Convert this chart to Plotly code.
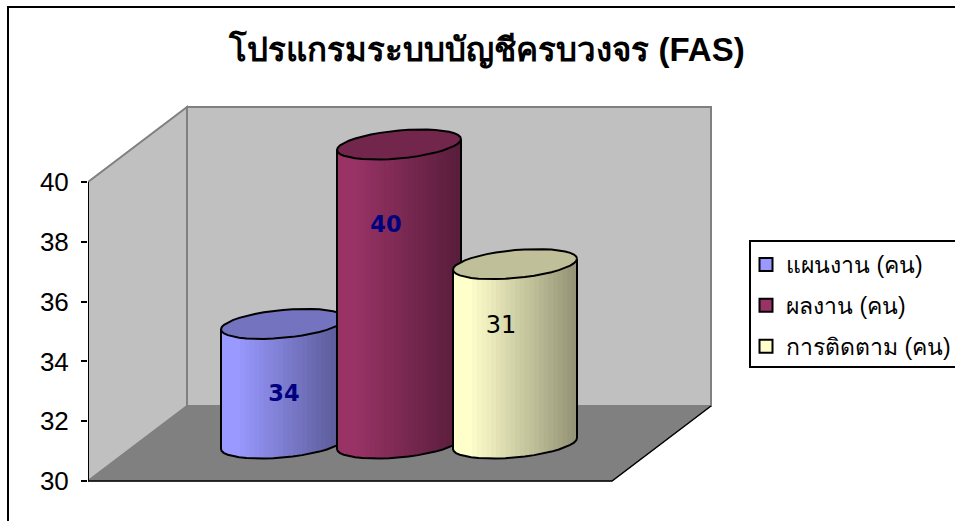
import numpy as np
import plotly.graph_objects as go

# ---- data ----
series_names = ["แผนงาน (คน)", "ผลงาน (คน)", "การติดตาม (คน)"]
bar_heights = [34, 40, 36]
bar_labels = ["34", "40", "31"]
tick_values = [30, 32, 34, 36, 38, 40]
title_text = "โปรแกรมระบบบัญชีครบวงจร (FAS)"

# ---- style ----
base_colors = [(0x99, 0x99, 0xFF), (0x99, 0x33, 0x66), (0xFF, 0xFF, 0xCC)]
label_colors = ["#000080", "#000080", "#000000"]
label_weights = ["bold", "bold", "normal"]
label_sizes = [22.5, 22.5, 24]
label_shift_x = [1, -13, -14]
label_shift_y = [71, 82, 63]
FONT = "Liberation Sans, Arial, sans-serif"
LABEL_FONT = "DejaVu Sans, Verdana, sans-serif"

# ---- geometry: x axis is in screen-like units, y axis in value units ----
W, H = 955, 521
PX_PER_UNIT = 29.9
AXIS_BOTTOM = 481
DEPTH_X, DEPTH_Y = 99, 75
AXIS_X = 88
FLOOR_W = 524
CYL_X0, CYL_STEP, CYL_W = 221, 116, 124
CYL_DY = 37.5          # base-centre rise above the front axis edge
ELL_B, ELL_TILT = 14, 5.5
N_STRIPS, N_POLY = 26, 20


def val(py):
    return 30 + (AXIS_BOTTOM - py) / PX_PER_UNIT


def rgb(c, f=1.0):
    return "rgb(%d,%d,%d)" % tuple(round(v * f) for v in c)


LIFT = CYL_DY / PX_PER_UNIT
BASE_VAL = 30 + LIFT
DY = DEPTH_Y / PX_PER_UNIT
TOP_VAL = max(tick_values)
B = ELL_B / PX_PER_UNIT
TILT = ELL_TILT / PX_PER_UNIT

fig = go.Figure()


def ellipse(cx, cy, a, t):
    return cx + a * np.cos(t), cy + B * np.sin(t) + TILT * np.cos(t)


for i, (h, col, name) in enumerate(zip(bar_heights, base_colors, series_names)):
    left = CYL_X0 + i * CYL_STEP
    a = CYL_W / 2
    cx = left + a
    top = h + LIFT
    t = np.linspace(np.pi, 2 * np.pi, N_POLY + 1)
    bx, by = ellipse(cx, BASE_VAL, a, t)
    tl = ellipse(cx, top, a, np.pi)
    tr = ellipse(cx, top, a, 0.0)
    # shaded side, painted left to right in steps
    edges = np.linspace(left, left + CYL_W, N_STRIPS + 1)
    for k in range(N_STRIPS):
        pos = k / (N_STRIPS - 1)
        f = 1.0 if pos < 0.12 else 1.0 - 0.42 * (pos - 0.12) / 0.88
        keep = bx > edges[k] + 0.01
        start = np.interp(edges[k], bx, by)
        top_left = np.interp(edges[k], [tl[0], tr[0]], [tl[1], tr[1]])
        xs = np.concatenate([[edges[k]], bx[keep], [tr[0], edges[k], edges[k]]])
        ys = np.concatenate([[start], by[keep], [tr[1], top_left, start]])
        fig.add_trace(go.Scatter(x=xs, y=ys, mode="lines", fill="toself",
                                 fillcolor=rgb(col, f), line=dict(width=0),
                                 showlegend=False, hoverinfo="skip"))
    # outline of the side
    fig.add_trace(go.Scatter(x=np.concatenate([[tl[0]], bx, [tr[0]]]),
                             y=np.concatenate([[tl[1]], by, [tr[1]]]),
                             mode="lines", line=dict(color="black", width=2),
                             showlegend=False, hoverinfo="skip"))
    # top cap
    t2 = np.linspace(0, 2 * np.pi, N_POLY * 2 + 1)
    tx, ty = ellipse(cx, top, a, t2)
    fig.add_trace(go.Scatter(x=tx, y=ty, mode="lines", fill="toself",
                             fillcolor=rgb(col, 0.75),
                             line=dict(color="black", width=2),
                             showlegend=False, hoverinfo="skip"))

# data labels
for i, lab in enumerate(bar_labels):
    cx = CYL_X0 + i * CYL_STEP + CYL_W / 2 + label_shift_x[i]
    py = AXIS_BOTTOM - CYL_DY - (bar_heights[i] - 30) * PX_PER_UNIT
    y_val = val(py + label_shift_y[i])
    fig.add_trace(go.Scatter(x=[cx], y=[y_val], mode="text", text=[lab],
                             textposition="middle center",
                             textfont=dict(family=LABEL_FONT, size=label_sizes[i],
                                           color=label_colors[i],
                                           weight=label_weights[i]),
                             showlegend=False, hoverinfo="skip"))

# legend entries
for name, col in zip(series_names, base_colors):
    fig.add_trace(go.Scatter(x=[None], y=[None], mode="markers", name=name,
                             legendgroup=name,
                             marker=dict(symbol="square", size=13, color=rgb(col),
                                         line=dict(color="black", width=2))))

# 3-D box
floor_path = "M %g %g L %g %g L %g %g L %g %g Z" % (
    AXIS_X, 30, AXIS_X + DEPTH_X, 30 + DY,
    AXIS_X + DEPTH_X + FLOOR_W, 30 + DY, AXIS_X + FLOOR_W, 30)
left_path = "M %g %g L %g %g L %g %g L %g %g Z" % (
    AXIS_X, 30, AXIS_X, TOP_VAL, AXIS_X + DEPTH_X, TOP_VAL + DY, AXIS_X + DEPTH_X, 30 + DY)
back_path = "M %g %g L %g %g L %g %g L %g %g Z" % (
    AXIS_X + DEPTH_X, 30 + DY, AXIS_X + DEPTH_X, TOP_VAL + DY,
    AXIS_X + DEPTH_X + FLOOR_W, TOP_VAL + DY, AXIS_X + DEPTH_X + FLOOR_W, 30 + DY)
edge_path = "M %g %g L %g %g L %g %g" % (
    AXIS_X, 30, AXIS_X + FLOOR_W, 30, AXIS_X + DEPTH_X + FLOOR_W, 30 + DY)
shapes = [
    dict(type="path", path=left_path, fillcolor="#C0C0C0", line=dict(color="#808080", width=2), layer="below"),
    dict(type="path", path=back_path, fillcolor="#C0C0C0", line=dict(color="#808080", width=2), layer="below"),
    dict(type="path", path=floor_path, fillcolor="#808080", line=dict(color="#808080", width=1), layer="below"),
    dict(type="path", path=edge_path, line=dict(color="black", width=1.5), layer="below"),
    dict(type="line", x0=AXIS_X, x1=AXIS_X, y0=30, y1=TOP_VAL, line=dict(color="black", width=2), layer="below"),
    # outer chart frame
    dict(type="path", xref="paper", yref="paper",
         path="M %g 0 L %g %g L 1.01 %g" % (8 / W, 8 / W, 1 - 7 / H, 1 - 7 / H),
         line=dict(color="black", width=2)),
    # legend box
    dict(type="rect", xref="paper", yref="paper", x0=750 / W, x1=1.02,
         y0=1 - 367 / H, y1=1 - 241 / H, fillcolor="white",
         line=dict(color="black", width=2), layer="below"),
]

fig.update_layout(
    width=W, height=H,
    margin=dict(l=0, r=0, t=0, b=0, pad=0, autoexpand=False),
    paper_bgcolor="white", plot_bgcolor="rgba(0,0,0,0)",
    title=dict(text="<b>%s</b>" % title_text, x=487 / W, y=1 - 49 / H,
               xanchor="center", yanchor="middle",
               font=dict(family=FONT, size=33, color="black")),
    xaxis=dict(domain=[AXIS_X / W, 1], range=[AXIS_X, W], visible=False, fixedrange=True),
    yaxis=dict(range=[val(H), val(0)], tickvals=tick_values, ticks="outside",
               ticklen=6, tickwidth=1.5, tickcolor="black", showgrid=False,
               zeroline=False, showline=False, fixedrange=True, ticklabelstandoff=7,
               tickfont=dict(family=FONT, size=26, color="black")),
    legend=dict(x=746 / W, y=1 - 243 / H, xanchor="left", yanchor="top",
                bgcolor="rgba(0,0,0,0)", borderwidth=0, tracegroupgap=8,
                font=dict(family=FONT, size=23, color="black"), itemwidth=30),
    shapes=shapes,
    showlegend=True,
)

fig.write_html("out.html", config={"displayModeBar": False},
               post_script="document.body.style.margin='0';document.body.style.overflow='hidden';")
